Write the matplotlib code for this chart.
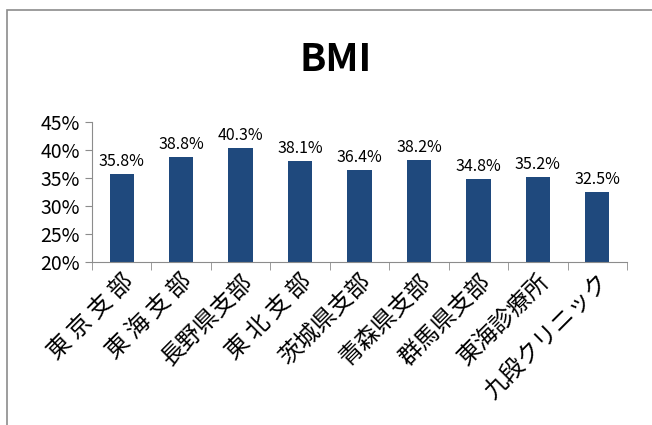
import matplotlib
matplotlib.use('Agg')
import matplotlib.pyplot as plt
from matplotlib.patches import Rectangle
from matplotlib.ticker import FuncFormatter, FixedLocator

plt.rcParams['font.family'] = ['Noto Sans CJK JP', 'DejaVu Sans']

# data
names = ['東 京 支 部', '東 海 支 部', '長野県支部', '東 北 支 部', '茨城県支部',
         '青森県支部', '群馬県支部', '東海診療所', '九段クリニック']
values = [35.8, 38.8, 40.3, 38.1, 36.4, 38.2, 34.8, 35.2, 32.5]
yticks = [20, 25, 30, 35, 40, 45]

fig = plt.figure(figsize=(6.52, 4.25), dpi=100)
fig.patches.append(Rectangle((7 / 652, -0.1), 1.2, 1 - 10 / 425 + 0.1,
                             transform=fig.transFigure, fill=False,
                             edgecolor='#8c8c8c', linewidth=1.2))

ax = fig.add_axes([92 / 652, 1 - 262 / 425, (627 - 92) / 652, 140 / 425])
x = range(len(names))
ax.bar(x, values, width=0.41, color='#1f497d')
for i, v in enumerate(values):
    ax.text(i, v + 0.7, f'{v:.1f}%', ha='center', va='bottom', fontsize=11.5)

ax.set_ylim(20, 45)
ax.set_xlim(-0.5, len(names) - 0.5)
ax.set_yticks(yticks)
ax.yaxis.set_major_formatter(FuncFormatter(lambda v, p: f'{v:.0f}%'))
ax.tick_params(axis='y', labelsize=14, length=5, color='#8c8c8c', direction='out')
ax.set_xticks(list(x))
ax.set_xticklabels(names, rotation=45, ha='right', rotation_mode='anchor', fontsize=17)
ax.xaxis.set_minor_locator(FixedLocator([i - 0.5 for i in range(len(names) + 1)]))
ax.tick_params(axis='x', which='major', length=0, pad=6)
ax.tick_params(axis='x', which='minor', length=6, color='#8c8c8c')
for s in ['top', 'right']:
    ax.spines[s].set_visible(False)
for s in ['left', 'bottom']:
    ax.spines[s].set_color('#8c8c8c')

fig.text(0.514, 0.859, 'BMI', ha='center', va='center', fontsize=28, fontweight='bold')

fig.savefig('out.png', dpi=100)
